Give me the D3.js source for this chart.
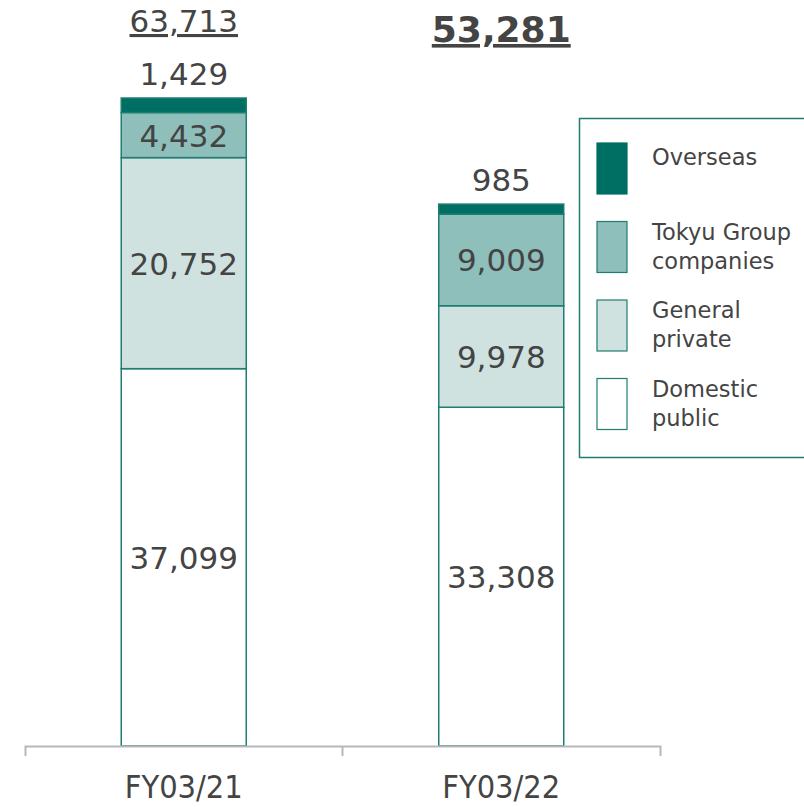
<!DOCTYPE html>
<html>
<head>
<meta charset="utf-8">
<script src="https://cdn.jsdelivr.net/npm/d3@7"></script>
<style>
  body { margin: 0; background: #fff; }
  svg { display: block; }
</style>
</head>
<body>
<svg class="chart" width="804" height="807"></svg>
<script>
var years = ["FY03/21", "FY03/22"];
var segments = ["Domestic public", "General private", "Tokyu Group companies", "Overseas"];
var domesticPublic = [37099, 33308];
var generalPrivate = [20752, 9978];
var tokyuGroup = [4432, 9009];
var overseas = [1429, 985];
var totals = [63713, 53281];

var legendItems = [["Overseas"], ["Tokyu Group", "companies"], ["General", "private"], ["Domestic", "public"]];

var fills = {
  "Domestic public": "#ffffff",
  "General private": "#cfe2e0",
  "Tokyu Group companies": "#8ebfba",
  "Overseas": "#006f63"
};
var strokeCol = "#1f7d72";
var textCol = "#444444";

var svg = d3.select(".chart"),
    width = +svg.attr("width"),
    height = +svg.attr("height");

var x = d3.scaleBand().domain(years).range([25, 660]).padding(0);
var barW = 125;
var y = d3.scaleLinear().domain([0, 63713]).range([746, 98]);

// build stack rows
var rows = years.map(function(yr, i) {
  return {
    year: yr,
    "Domestic public": domesticPublic[i],
    "General private": generalPrivate[i],
    "Tokyu Group companies": tokyuGroup[i],
    "Overseas": overseas[i]
  };
});
var stacked = d3.stack().keys(segments)(rows);

var gBars = svg.append("g");
stacked.forEach(function(layer) {
  gBars.selectAll(null)
    .data(layer)
    .enter().append("rect")
    .attr("x", function(d) { return x(d.data.year) + x.bandwidth() / 2 - barW / 2; })
    .attr("y", function(d) { return y(d[1]); })
    .attr("width", barW)
    .attr("height", function(d) { return y(d[0]) - y(d[1]); })
    .style("fill", fills[layer.key])
    .style("stroke", strokeCol)
    .style("stroke-width", 1.5);
});

// value labels
var fs = 31;
stacked.forEach(function(layer) {
  gBars.selectAll(null)
    .data(layer)
    .enter().append("text")
    .attr("x", function(d) { return x(d.data.year) + x.bandwidth() / 2; })
    .attr("y", function(d) {
      if (layer.key == "Overseas") return y(d[1]) - 13;
      return (y(d[0]) + y(d[1])) / 2 + fs * 0.37;
    })
    .attr("text-anchor", "middle")
    .style("font-family", "DejaVu Sans, Verdana, sans-serif")
    .style("font-size", fs + "px")
    .style("fill", textCol)
    .text(function(d) { return d3.format(",")(d[1] - d[0]); });
});

// totals
svg.selectAll(".total")
  .data(totals)
  .enter().append("text")
  .attr("class", "total")
  .attr("x", function(d, i) { return x(years[i]) + x.bandwidth() / 2; })
  .attr("y", function(d, i) { return i == 0 ? 32 : 42; })
  .attr("text-anchor", "middle")
  .style("font-family", "DejaVu Sans, Verdana, sans-serif")
  .style("font-size", function(d, i) { return i == 0 ? "31px" : "36px"; })
  .style("font-weight", function(d, i) { return i == 0 ? "normal" : "bold"; })
  .style("text-decoration", "underline")
  .style("fill", textCol)
  .text(function(d) { return d3.format(",")(d); });

// axis
var axis = svg.append("g")
  .attr("transform", "translate(0,746)")
  .call(d3.axisBottom(x).tickSize(0).tickSizeOuter(10).tickPadding(50));
axis.select(".domain").style("stroke", "#b8b8b8").style("stroke-width", 2);
axis.selectAll(".tick text")
  .style("font-family", "DejaVu Sans Condensed, DejaVu Sans, sans-serif")
  .style("font-size", "32px")
  .style("fill", textCol)
  .attr("y", 52)
  .attr("dy", 0)
  .attr("textLength", 118)
  .attr("lengthAdjust", "spacingAndGlyphs");
// inner boundary tick
axis.append("line")
  .attr("x1", x(years[1])).attr("x2", x(years[1]))
  .attr("y1", 0).attr("y2", 10)
  .style("stroke", "#b8b8b8").style("stroke-width", 2);

// legend
var legend = svg.append("g");
legend.append("rect")
  .attr("x", 579.5).attr("y", 118.5)
  .attr("width", 240).attr("height", 339)
  .style("fill", "none")
  .style("stroke", strokeCol)
  .style("stroke-width", 1.5);

var legendKeys = ["Overseas", "Tokyu Group companies", "General private", "Domestic public"];
var item = legend.selectAll(".item")
  .data(legendKeys)
  .enter().append("g")
  .attr("class", "item")
  .attr("transform", function(d, i) { return "translate(597," + (143 + i * 78.5) + ")"; });
item.append("rect")
  .attr("width", 30).attr("height", 51)
  .style("fill", function(d) { return fills[d]; })
  .style("stroke", function(d) { return d == "Overseas" ? fills[d] : strokeCol; })
  .style("stroke-width", 1.2);
item.append("text")
  .style("font-family", "DejaVu Sans, Verdana, sans-serif")
  .style("font-size", "22.5px")
  .style("fill", textCol)
  .selectAll("tspan")
  .data(function(d, i) { return legendItems[i]; })
  .enter().append("tspan")
  .attr("x", 55)
  .attr("y", function(d, j, nodes) { return (nodes.length == 1 ? 22 : 18) + j * 29; })
  .text(function(d) { return d; });
</script>
</body>
</html>
